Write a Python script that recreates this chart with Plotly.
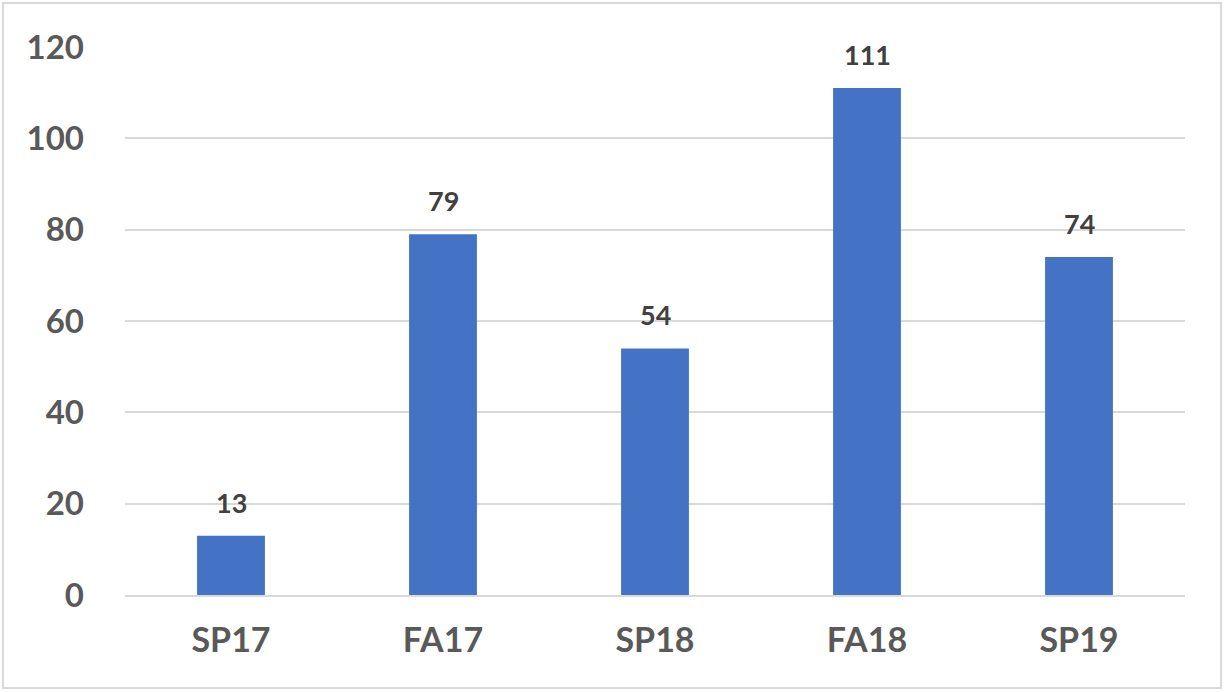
import plotly.graph_objects as go

categories = ["SP17", "FA17", "SP18", "FA18", "SP19"]
values = [13, 79, 54, 111, 74]
y_ticks = [0, 20, 40, 60, 80, 100, 120]

W, H = 1225, 692
L, R, T, B = 125, 40, 47, 97
pw, ph = W - L - R, H - T - B

fig = go.Figure()
fig.add_trace(go.Bar(x=categories, y=values, marker=dict(color="#4472C4", line=dict(width=0)),
                     hoverinfo="x+y"))

for c, v in zip(categories, values):
    fig.add_annotation(x=c, y=v, text=str(v), showarrow=False, yanchor="bottom",
                       yshift=15, font=dict(family="Lato", size=27, color="#404040", weight="bold"))

# outer border
fig.add_shape(type="rect", xref="paper", yref="paper",
              x0=(3 - L) / pw, x1=(W - 4 - L) / pw,
              y0=(H - B - (H - 4)) / ph, y1=(H - B - 3) / ph,
              line=dict(color="#d9d9d9", width=2), fillcolor="rgba(0,0,0,0)", layer="below")

fig.update_layout(
    width=W, height=H,
    margin=dict(l=L, r=R, t=T, b=B),
    paper_bgcolor="white", plot_bgcolor="white",
    bargap=0.68, showlegend=False,
    font=dict(family="Lato", color="#595959"),
    xaxis=dict(showgrid=False, showline=True, linecolor="#d9d9d9", linewidth=2,
               ticks="", tickfont=dict(size=34, color="#595959", weight="bold"),
               ticklabelstandoff=14, fixedrange=True),
    yaxis=dict(range=[0, 120], tickvals=y_ticks, showgrid=True, gridcolor="#d9d9d9",
               gridwidth=2, zeroline=False, showline=False, ticks="",
               tickfont=dict(size=33, color="#595959", weight="bold"),
               ticklabelstandoff=40, fixedrange=True),
)

fig.write_html("out.html", config={"displayModeBar": False},
               post_script="document.body.style.margin='0';document.body.style.overflow='hidden';")
